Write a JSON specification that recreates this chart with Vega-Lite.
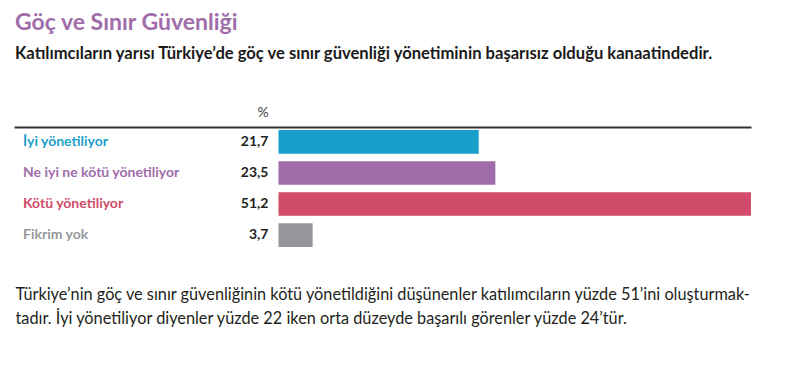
{
  "$schema": "https://vega.github.io/schema/vega-lite/v6.json",
  "width": 737,
  "height": 123,
  "autosize": "none",
  "padding": {"left": 14, "top": 127, "right": 44, "bottom": 132},
  "background": "white",
  "title": {
    "text": "Göç ve Sınır Güvenliği",
    "subtitle": "Katılımcıların yarısı Türkiye’de göç ve sınır güvenliği yönetiminin başarısız olduğu kanaatindedir.",
    "anchor": "start",
    "frame": "group",
    "font": "Lato",
    "fontSize": 23,
    "fontWeight": "bold",
    "color": "#a06daa",
    "subtitleFont": "Lato",
    "subtitleFontSize": 16.6,
    "subtitleFontWeight": "bold",
    "subtitleColor": "#1a1a1a",
    "subtitlePadding": 11,
    "offset": 42,
    "dx": 1
  },
  "data": {
    "values": [
      {"k": "İyi yönetiliyor", "v": 21.7},
      {"k": "Ne iyi ne kötü yönetiliyor", "v": 23.5},
      {"k": "Kötü yönetiliyor", "v": 51.2},
      {"k": "Fikrim yok", "v": 3.7}
    ]
  },
  "config": {
    "view": {"stroke": null},
    "locale": {"number": {"decimal": ",", "thousands": ".", "grouping": [3], "currency": ["", " ₺"]}}
  },
  "resolve": {"axis": {"x": "independent"}},
  "layer": [
    {
      "mark": {"type": "bar"},
      "encoding": {
        "y": {"field": "k", "type": "nominal", "sort": null, "axis": null,
              "scale": {"paddingInner": 0.24, "paddingOuter": 0.1}},
        "x": {"field": "v", "type": "quantitative",
              "scale": {"domain": [-28.66, 51.2], "nice": false, "zero": false},
              "axis": {"orient": "top", "title": "%", "labels": false, "ticks": false, "grid": false,
                       "domainColor": "#333333", "domainWidth": 2,
                       "titleX": 248.6, "titleY": -15, "titleAlign": "center", "titleBaseline": "middle",
                       "titleFont": "Lato", "titleFontSize": 14, "titleFontWeight": "normal", "titleColor": "#444444"}},
        "x2": {"datum": 0},
        "color": {"field": "k", "type": "nominal", "sort": null, "legend": null,
                  "scale": {"domain": ["İyi yönetiliyor", "Ne iyi ne kötü yönetiliyor", "Kötü yönetiliyor", "Fikrim yok"],
                            "range": ["#1a9fcb", "#a06daa", "#d14b6a", "#96979b"]}}
      }
    },
    {
      "mark": {"type": "text", "align": "left", "baseline": "middle", "dx": 9, "font": "Lato", "fontSize": 14, "fontWeight": "bold"},
      "encoding": {
        "y": {"field": "k", "type": "nominal", "sort": null},
        "x": {"datum": -28.66, "type": "quantitative",
              "axis": {"orient": "bottom", "domain": false, "labels": false, "ticks": false, "grid": false,
                       "title": ["Türkiye’nin göç ve sınır güvenliğinin kötü yönetildiğini düşünenler katılımcıların yüzde 51’ini oluşturmak-", "tadır. İyi yönetiliyor diyenler yüzde 22 iken orta düzeyde başarılı görenler yüzde 24’tür."],
                       "titleX": 1, "titleY": 49, "titleAnchor": "start", "titleAlign": "left", "titleBaseline": "alphabetic",
                       "titleLineHeight": 24, "titleFont": "Lato", "titleFontSize": 16.3, "titleFontWeight": "normal", "titleColor": "#231f20"}},
        "text": {"field": "k", "type": "nominal"},
        "color": {"field": "k", "type": "nominal", "sort": null, "legend": null}
      }
    },
    {
      "mark": {"type": "text", "align": "right", "baseline": "middle", "dx": -10, "font": "Lato", "fontSize": 14, "fontWeight": "bold", "color": "#231f20"},
      "encoding": {
        "y": {"field": "k", "type": "nominal", "sort": null},
        "x": {"datum": 0, "type": "quantitative", "axis": null},
        "text": {"field": "v", "type": "quantitative", "format": ".1f"}
      }
    }
  ]
}
